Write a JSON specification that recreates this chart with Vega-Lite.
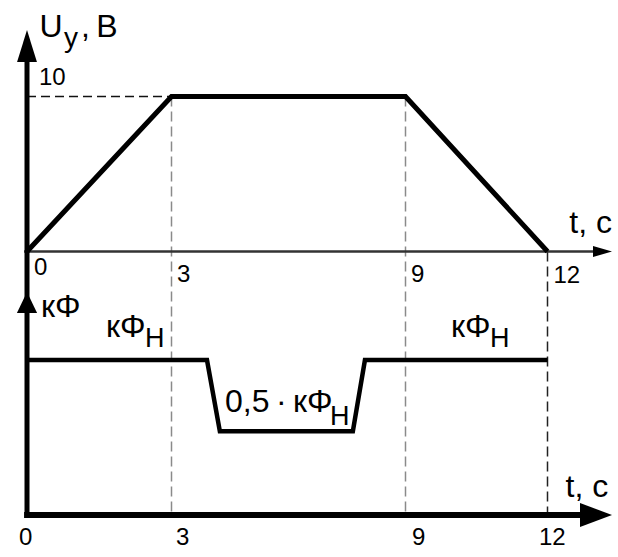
{
  "$schema": "https://vega.github.io/schema/vega-lite/v6.json",
  "width": 618,
  "height": 557,
  "autosize": "none",
  "padding": 0,
  "config": {"view": {"stroke": null}, "font": "Liberation Sans"},
  "layer": [
    {
      "encoding": {
        "x": {"field": "t", "type": "quantitative", "axis": null, "scale": {"domain": [0, 3, 9, 12], "range": [27, 171.5, 405.5, 547.5], "nice": false, "zero": false}},
        "y": {"field": "v", "type": "quantitative", "axis": null, "scale": {"domain": [0, 10], "range": [251.5, 96.5], "nice": false, "zero": false}}
      },
      "layer": [
        {
          "data": {"values": [{"t": 0, "t2": 3, "v": 10}]},
          "mark": {"type": "rule", "color": "#111", "strokeWidth": 1.5, "strokeDash": [9, 5]},
          "encoding": {"x2": {"field": "t2"}}
        },
        {
          "data": {"values": [{"t": 3, "v": 10, "v2": -17.0}, {"t": 9, "v": 10, "v2": -17.0}]},
          "mark": {"type": "rule", "color": "#8a8a8a", "strokeWidth": 1.5, "strokeDash": [10, 5]},
          "encoding": {"y2": {"field": "v2"}}
        },
        {
          "data": {"values": [{"t": 12, "v": 0, "v2": -17.0}]},
          "mark": {"type": "rule", "color": "#222", "strokeWidth": 1.5, "strokeDash": [10, 5]},
          "encoding": {"y2": {"field": "v2"}}
        },
        {
          "data": {"values": [{"t": -0.06, "t2": 13.0, "v": 0}]},
          "mark": {"type": "rule", "color": "#333", "strokeWidth": 2.5},
          "encoding": {"x2": {"field": "t2"}}
        },
        {
          "data": {"values": [{"t": 0, "v": 0}, {"t": 3, "v": 10}, {"t": 9, "v": 10}, {"t": 12, "v": 0}]},
          "mark": {"type": "line", "color": "#000", "strokeWidth": 5, "strokeJoin": "miter"},
          "encoding": {}
        },
        {
          "data": {"values": [{"t": 13.363, "v": 0}]},
          "mark": {"type": "point", "shape": "M0,0L-1,-0.29L-1,0.29Z", "size": 1444, "filled": true, "color": "#000", "opacity": 1, "strokeWidth": 0},
          "encoding": {}
        },
        {
          "data": {"values": [{"t": 0, "v": 14.29}]},
          "mark": {"type": "point", "shape": "M0,0L-0.31,1L0.31,1Z", "size": 4096, "filled": true, "color": "#000", "opacity": 1, "strokeWidth": 0},
          "encoding": {}
        },
        {
          "data": {"values": [
            {"t": 0.26, "v": 13.84, "label": "U"},
            {"t": 1.121, "v": 13.84, "label": ",\u2009В"},
            {"t": 12.46, "v": 1.19, "label": "t, с"}
          ]},
          "mark": {"type": "text", "align": "left", "baseline": "alphabetic", "fontSize": 32, "color": "#000"},
          "encoding": {"text": {"field": "label"}}
        },
        {
          "data": {"values": [{"t": 0.768, "v": 13.19, "label": "у"}]},
          "mark": {"type": "text", "align": "left", "baseline": "alphabetic", "fontSize": 28, "color": "#000"},
          "encoding": {"text": {"field": "label"}}
        },
        {
          "data": {"values": [
            {"t": 0.249, "v": 10.74, "label": "10"},
            {"t": 0.145, "v": -1.516, "label": "0"},
            {"t": 3.141, "v": -1.968, "label": "3"},
            {"t": 9.116, "v": -1.968, "label": "9"},
            {"t": 12.127, "v": -2.03, "label": "12"}
          ]},
          "mark": {"type": "text", "align": "left", "baseline": "alphabetic", "fontSize": 24, "color": "#000"},
          "encoding": {"text": {"field": "label"}}
        }
      ]
    },
    {
      "encoding": {
        "x": {"field": "t", "type": "quantitative", "axis": null, "scale": {"domain": [0, 3, 9, 12], "range": [27, 171.5, 405.5, 547.5], "nice": false, "zero": false}},
        "y": {"field": "v", "type": "quantitative", "axis": null, "scale": {"domain": [0, 1], "range": [515, 360], "nice": false, "zero": false}}
      },
      "layer": [
        {
          "data": {"values": [{"t": 0, "v": 1}, {"t": 3.91, "v": 1}, {"t": 4.24, "v": 0.54}, {"t": 7.65, "v": 0.54}, {"t": 7.96, "v": 1}, {"t": 12, "v": 1}]},
          "mark": {"type": "line", "color": "#000", "strokeWidth": 4.5, "strokeJoin": "miter"},
          "encoding": {}
        },
        {
          "data": {"values": [{"t": -0.06, "t2": 12.9, "v": 0}]},
          "mark": {"type": "rule", "color": "#000", "strokeWidth": 6},
          "encoding": {"x2": {"field": "t2"}}
        },
        {
          "data": {"values": [{"t": 0, "v": -0.02, "v2": 3.03}]},
          "mark": {"type": "rule", "color": "#000", "strokeWidth": 5},
          "encoding": {"y2": {"field": "v2"}}
        },
        {
          "data": {"values": [{"t": 0, "v": 1.439}]},
          "mark": {"type": "point", "shape": "M0,0L-0.48,1L0.48,1Z", "size": 1764, "filled": true, "color": "#000", "opacity": 1, "strokeWidth": 0},
          "encoding": {}
        },
        {
          "data": {"values": [{"t": 13.363, "v": 0}]},
          "mark": {"type": "point", "shape": "M0,0L-1,-0.375L-1,0.375Z", "size": 4096, "filled": true, "color": "#000", "opacity": 1, "strokeWidth": 0},
          "encoding": {}
        },
        {
          "data": {"values": [
            {"t": 0.291, "v": 1.279, "label": "кΦ"},
            {"t": 1.64, "v": 1.148, "label": "кΦ"},
            {"t": 9.961, "v": 1.148, "label": "кΦ"},
            {"t": 4.372, "v": 0.665, "label": "0,5\u2009·\u2009кΦ"},
            {"t": 12.38, "v": 0.116, "label": "t, с"}
          ]},
          "mark": {"type": "text", "align": "left", "baseline": "alphabetic", "fontSize": 32, "color": "#000"},
          "encoding": {"text": {"field": "label"}}
        },
        {
          "data": {"values": [
            {"t": 2.45, "v": 1.084, "label": "Н"},
            {"t": 10.785, "v": 1.084, "label": "Н"},
            {"t": 7.065, "v": 0.581, "label": "Н"}
          ]},
          "mark": {"type": "text", "align": "left", "baseline": "alphabetic", "fontSize": 27, "color": "#000"},
          "encoding": {"text": {"field": "label"}}
        },
        {
          "data": {"values": [
            {"t": -0.166, "v": -0.194, "label": "0"},
            {"t": 3.115, "v": -0.194, "label": "3"},
            {"t": 9.137, "v": -0.194, "label": "9"},
            {"t": 11.82, "v": -0.194, "label": "12"}
          ]},
          "mark": {"type": "text", "align": "left", "baseline": "alphabetic", "fontSize": 24, "color": "#000"},
          "encoding": {"text": {"field": "label"}}
        }
      ]
    }
  ],
  "resolve": {"scale": {"y": "independent"}}
}
